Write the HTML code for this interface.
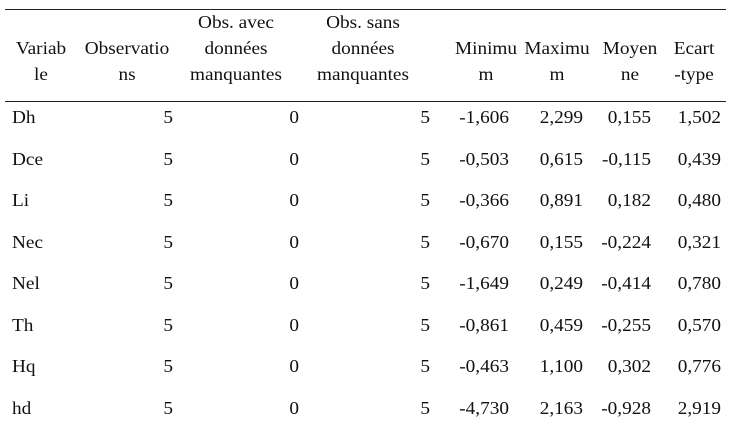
<!DOCTYPE html>
<html><head><meta charset="utf-8"><style>
body{margin:0;width:731px;height:429px;background:#fff;position:relative;font-family:"Liberation Serif",serif;font-size:17.5px;color:#111;overflow:hidden}
.l{position:absolute;left:5px;width:721px;height:1px;background:#222}
.t{position:absolute;white-space:nowrap;line-height:20px;transform-origin:left center;transform:scaleX(1.1)}
.c{transform-origin:left center;transform:translateX(-50%) scaleX(1.1);transform-origin:center}
.r{transform:translateX(-100%) scaleX(1.1);transform-origin:right center}
</style></head><body>
<div class="l" style="top:9px"></div>
<div class="l" style="top:101px"></div>
<div id="h"></div>
<div id="b"></div>
<script>
var H=[[41,["","Variab","le"]],[127,["","Observatio","ns"]],[236,["Obs. avec","données","manquantes"]],[363,["Obs. sans","données","manquantes"]],[486,["","Minimu","m"]],[557,["","Maximu","m"]],[630,["","Moyen","ne"]],[694,["","Ecart","-type"]]];
var ys=[12,38,64],s="";
H.forEach(function(h){h[1].forEach(function(t,i){if(t)s+='<div class="t c" style="left:'+h[0]+'px;top:'+ys[i]+'px">'+t+'</div>';});});
document.getElementById('h').innerHTML=s;
var R=[["Dh","-1,606","2,299","0,155","1,502"],["Dce","-0,503","0,615","-0,115","0,439"],["Li","-0,366","0,891","0,182","0,480"],["Nec","-0,670","0,155","-0,224","0,321"],["Nel","-1,649","0,249","-0,414","0,780"],["Th","-0,861","0,459","-0,255","0,570"],["Hq","-0,463","1,100","0,302","0,776"],["hd","-4,730","2,163","-0,928","2,919"]];
var xs=[173,299,430,509,583,651,721];s="";
R.forEach(function(r,i){var y=107+i*41.5;
s+='<div class="t" style="left:12px;top:'+y+'px">'+r[0]+'</div>';
var v=["5","0","5",r[1],r[2],r[3],r[4]];
v.forEach(function(t,j){s+='<div class="t r" style="left:'+xs[j]+'px;top:'+y+'px">'+t+'</div>';});});
document.getElementById('b').innerHTML=s;
</script>
</body></html>
